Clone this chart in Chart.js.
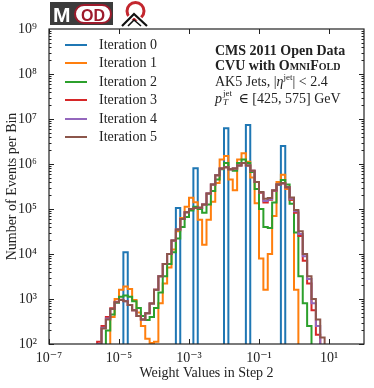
<!DOCTYPE html>
<html>
<head>
<meta charset="utf-8">
<script src="https://cdn.jsdelivr.net/npm/chart.js@4.4.0/dist/chart.umd.min.js"></script>
<style>
  html, body { margin: 0; padding: 0; background: #fff; }
  #wrap { position: relative; width: 374px; height: 388px; font-family: "Liberation Serif", "DejaVu Serif", serif; color: #222; }
  #chart { position: absolute; left: 0; top: 0; }
  .logo { position: absolute; left: 0; top: 0; }
  .legend { position: absolute; left: 65px; top: 35.25px; }
  .legend .row { height: 18.5px; display: flex; align-items: center; font-size: 14px; white-space: nowrap; }
  .legend .swatch { width: 22px; height: 2px; margin-right: 12px; }
  .note { position: absolute; left: 215px; font-size: 14px; line-height: 16px; white-space: nowrap; }
  .note.b { font-weight: bold; }
  .sc { font-variant: small-caps; }
  .sup { font-size: 9px; position: relative; top: -6px; }
  .ss { display: inline-block; position: relative; width: 13px; height: 10px; font-size: 9px; line-height: 9px; }
  .ss .hi { position: absolute; left: 1px; top: -4px; }
  .ss .lo { position: absolute; left: 1px; top: 5px; }
</style>
</head>
<body>
<div id="wrap">
  <canvas id="chart" width="374" height="388"></canvas>
  <svg class="logo" width="160" height="30" viewBox="0 0 160 30">
    <rect x="50" y="2" width="63" height="23" fill="#3c3c3c"/>
    <text x="53" y="22" font-family="Liberation Sans, Arial, sans-serif" font-weight="bold" font-size="21" fill="#fff">M</text>
    <rect x="75" y="5" width="36" height="18" rx="9" fill="#fff" stroke="#9e1b2c" stroke-width="2"/>
    <text x="93" y="20.5" text-anchor="middle" font-family="Liberation Sans, Arial, sans-serif" font-weight="bold" font-size="16" fill="#9e1b2c">OD</text>
    <circle cx="135.5" cy="11" r="8.5" fill="none" stroke="#c3262e" stroke-width="3"/>
    <polyline points="122,26 134,14 147,26" fill="none" stroke="#fff" stroke-width="5"/>
    <polyline points="122,26 134,14 147,26" fill="none" stroke="#111" stroke-width="2.2"/>
    <polyline points="128,26 134,20 141,26" fill="none" stroke="#111" stroke-width="1.6"/>
  </svg>
  <div class="legend" id="legend"></div>
  <div class="note b" style="top:42.7px">CMS 2011 Open Data</div>
  <div class="note b" style="top:58px">CVU with <span class="sc">OmniFold</span></div>
  <div class="note" style="top:74.3px">AK5 Jets, |<i>η</i><span class="sup">jet</span>| &lt; 2.4</div>
  <div class="note" style="top:91px"><i>p</i><span class="ss"><span class="hi">jet</span><span class="lo"><i>T</i></span></span> ∈ [425, 575] GeV</div>
</div>
<script>
// binning: log-spaced, 8 bins per decade starting at 10^-5.75
const firstEdgeExp = -5.75;
const binsPerDecade = 8;

const labels = ['Iteration 0', 'Iteration 1', 'Iteration 2', 'Iteration 3', 'Iteration 4', 'Iteration 5'];
const colors = ['#1f77b4', '#ff7f0e', '#2ca02c', '#d62728', '#9467bd', '#8c564b'];

// counts per bin (54 bins)
const iter0 = [0, 0, 0, 0, 0, 0, 0, 11000, 0, 0, 0, 0, 0, 0, 0, 0, 0, 0, 0, 105000,
  0, 0, 0, 800000, 0, 0, 0, 0, 0, 0, 6200000, 0, 0, 0, 0, 7400000, 0, 0, 0, 0,
  0, 0, 0, 2500000, 0, 0, 0, 0, 0, 0, 0, 0, 0, 0];
const iter1 = [0, 0, 0, 0, 400, 1000, 1600, 1900, 1660, 950, 500, 250, 130, 105, 112, 800, 2200, 5000, 12600, 32000,
  63000, 112000, 178000, 141000, 58000, 16000, 58000, 145000, 380000, 1260000, 1510000, 450000, 260000, 1260000, 1740000, 1120000, 500000, 135000, 7900, 1600,
  10000, 70000, 400000, 575000, 280000, 160000, 1600, 0, 0, 0, 0, 0, 0, 0];
const iter2 = [0, 0, 0, 200, 450, 830, 1120, 1200, 1120, 890, 630, 420, 340, 400, 630, 1400, 3200, 6000, 11000, 22000,
  40000, 66000, 93000, 112000, 100000, 83000, 126000, 250000, 450000, 760000, 1050000, 760000, 710000, 1050000, 1260000, 1050000, 660000, 280000, 100000, 40000,
  38000, 140000, 350000, 440000, 350000, 130000, 30000, 3200, 800, 250, 0, 0, 0, 0];
const iter3 = [0, 112, 250, 400, 620, 870, 960, 900, 740, 560, 420, 350, 480, 790, 1600, 3200, 6000, 10000, 20000, 35000,
  60000, 85000, 100000, 105000, 107000, 126000, 220000, 350000, 560000, 790000, 850000, 760000, 790000, 930000, 1050000, 930000, 710000, 400000, 230000, 140000,
  160000, 255000, 350000, 370000, 300000, 160000, 83000, 25000, 7100, 2200, 560, 160, 0, 0];
const iter4 = [0, 100, 230, 370, 600, 850, 950, 890, 740, 560, 420, 350, 480, 790, 1600, 3200, 6000, 10000, 20000, 35000,
  60000, 85000, 100000, 105000, 107000, 126000, 220000, 350000, 560000, 790000, 850000, 760000, 790000, 930000, 1050000, 930000, 710000, 400000, 235000, 150000,
  165000, 258000, 350000, 370000, 305000, 170000, 89000, 28000, 8900, 2800, 800, 250, 0, 0];
const iter5 = [0, 80, 220, 350, 600, 850, 950, 890, 740, 560, 420, 350, 480, 790, 1600, 3200, 6000, 10000, 20000, 35000,
  60000, 85000, 100000, 105000, 107000, 126000, 220000, 350000, 560000, 790000, 850000, 760000, 790000, 930000, 1050000, 930000, 710000, 400000, 240000, 170000,
  175000, 260000, 350000, 380000, 310000, 180000, 95000, 32000, 10000, 3200, 1000, 350, 140, 0];
const series = [iter0, iter1, iter2, iter3, iter4, iter5];

const xMin = 1e-7, xMax = 1e2;
const yMin = 1e2, yMax = 1e9;
const xTickValues = [1e-7, 1e-5, 1e-3, 1e-1, 1e1];
const yTickValues = [1e2, 1e3, 1e4, 1e5, 1e6, 1e7, 1e8, 1e9];

const fontFamily = "'Liberation Serif', 'DejaVu Serif', serif";
const textColor = '#222';
const emptyLevel = 1e-3; // empty bins fall below the axis

const supChars = { '-': '⁻', '0': '⁰', '1': '¹', '2': '²', '3': '³', '4': '⁴', '5': '⁵', '6': '⁶', '7': '⁷', '8': '⁸', '9': '⁹' };
function powerLabel(v) {
  const e = Math.round(Math.log10(v));
  return '10' + String(e).split('').map(c => supChars[c]).join('');
}

const binEdge = i => Math.pow(10, firstEdgeExp + i / binsPerDecade);

function stepPoints(counts) {
  const pts = [{ x: binEdge(0), y: emptyLevel }];
  counts.forEach((c, i) => pts.push({ x: binEdge(i), y: c > 0 ? c : emptyLevel }));
  pts.push({ x: binEdge(counts.length), y: emptyLevel });
  return pts;
}

// legend
const legendEl = document.getElementById('legend');
labels.forEach((name, i) => {
  const row = document.createElement('div');
  row.className = 'row';
  row.innerHTML = '<span class="swatch" style="background:' + colors[i] + '"></span><span>' + name + '</span>';
  legendEl.appendChild(row);
});

// inward ticks on all sides + frame
const frameTicks = {
  id: 'frameTicks',
  afterDatasetsDraw(chart) {
    const { ctx, chartArea: a, scales: { x, y } } = chart;
    ctx.save();
    ctx.strokeStyle = '#222';
    ctx.lineWidth = 1;
    ctx.beginPath();
    for (let e = 2; e < 9; e++) {
      for (let m = 1; m < 10; m++) {
        const py = Math.round(y.getPixelForValue(m * Math.pow(10, e))) + 0.5;
        const len = m === 1 ? 5 : 2.5;
        ctx.moveTo(a.left, py); ctx.lineTo(a.left + len, py);
        ctx.moveTo(a.right, py); ctx.lineTo(a.right - len, py);
      }
    }
    xTickValues.forEach(v => {
      const px = Math.round(x.getPixelForValue(v)) + 0.5;
      ctx.moveTo(px, a.bottom); ctx.lineTo(px, a.bottom - 5);
      ctx.moveTo(px, a.top); ctx.lineTo(px, a.top + 5);
    });
    ctx.stroke();
    ctx.lineWidth = 1.2;
    ctx.strokeRect(a.left, a.top, a.right - a.left, a.bottom - a.top);
    ctx.restore();
  }
};

new Chart(document.getElementById('chart').getContext('2d'), {
  type: 'line',
  data: {
    datasets: series.map((counts, i) => ({
      label: labels[i],
      data: stepPoints(counts),
      borderColor: colors[i],
      borderWidth: 2,
      pointRadius: 0,
      fill: false,
      stepped: true,
      clip: 0,
      borderJoinStyle: 'miter',
      order: series.length - 1 - i
    }))
  },
  options: {
    responsive: false,
    animation: false,
    devicePixelRatio: 1,
    layout: { padding: { left: 0, top: 29, right: 10, bottom: 0 } },
    plugins: { legend: { display: false }, tooltip: { enabled: false } },
    scales: {
      x: {
        type: 'logarithmic', min: xMin, max: xMax,
        afterBuildTicks: s => { s.ticks = xTickValues.map(v => ({ value: v })); },
        afterFit: s => { s.height = 44; },
        grid: { display: false }, border: { display: false },
        ticks: { callback: v => powerLabel(v), font: { family: fontFamily, size: 14 }, color: textColor, padding: -2, autoSkip: false, maxRotation: 0 },
        title: { display: true, text: 'Weight Values in Step 2', font: { family: fontFamily, size: 14 }, color: textColor, padding: { top: 0, bottom: 6 } }
      },
      y: {
        type: 'logarithmic', min: yMin, max: yMax,
        afterBuildTicks: s => { s.ticks = yTickValues.map(v => ({ value: v })); },
        afterFit: s => { s.width = 49; },
        grid: { display: false }, border: { display: false },
        ticks: { callback: v => powerLabel(v), font: { family: fontFamily, size: 14 }, color: textColor, padding: 4, autoSkip: false },
        title: { display: true, text: 'Number of Events per Bin', font: { family: fontFamily, size: 14 }, color: textColor, padding: { top: 4, bottom: 0 } }
      }
    }
  },
  plugins: [frameTicks]
});
</script>
</body>
</html>
